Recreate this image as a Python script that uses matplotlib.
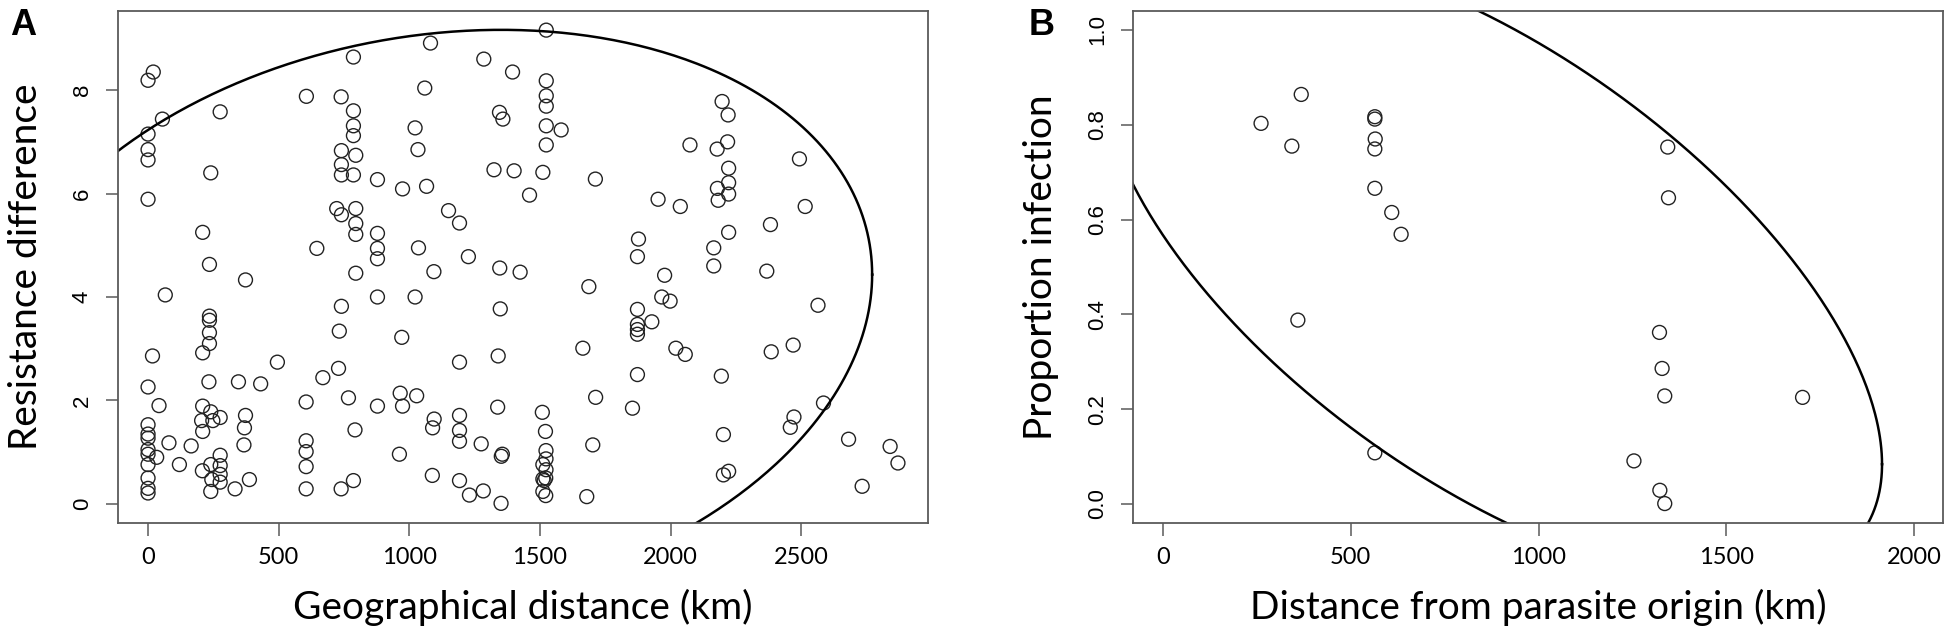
import numpy as np
import matplotlib
matplotlib.use("Agg")
import matplotlib.pyplot as plt

# Panel A: geographical distance (km) vs resistance difference
geo_dist = [
    0, 0, 0, 0, 0, 20, 55, 66, 17, 0,
    0, 0, 0, 0, 0, 0, 0, 0, 0, 33, 42, 80, 120, 165,
    276, 240, 209, 235, 235, 235, 235, 235, 209, 233,
    209, 240, 205, 248, 276, 209, 276, 240, 276, 208, 244, 276, 276, 240,
    373, 495, 346, 431, 333, 388, 373, 369, 367,
    606, 605, 605, 605, 605, 605, 646, 669,
    739, 786, 786, 786, 786, 740, 795, 740, 740, 786, 722, 740, 795, 795, 795,
    795, 740, 732, 729, 767, 792, 739, 786,
    878, 878, 878, 878, 878, 878, 965, 974, 971, 962, 974,
    1066, 1022, 1033, 1059, 1081, 1035, 1094, 1022, 1028, 1095, 1089, 1088,
    1150, 1192, 1226, 1192, 1192, 1192, 1192, 1192, 1230, 1275, 1283, 1285,
    1345, 1358, 1324, 1395, 1401, 1346, 1348, 1340, 1338, 1356, 1352, 1351, 1424,
    1524, 1524, 1524, 1524, 1524, 1524, 1511, 1460, 1581,
    1509, 1521, 1523, 1523, 1511, 1523, 1511, 1516, 1522, 1511, 1522,
    1712, 1687, 1664, 1713, 1702, 1679,
    1877, 1873, 1873, 1873, 1873, 1873, 1928, 1873, 1854,
    1952, 1977, 1966, 1998, 2037, 2074, 2020, 2056,
    2197, 2220, 2218, 2178, 2222, 2222, 2179, 2222, 2182, 2222, 2165, 2165,
    2194, 2202, 2222, 2202,
    2382, 2368, 2493, 2515, 2564, 2385, 2469, 2585, 2472, 2458, 2681, 2840,
    2870, 2733,
]
resist_diff = [
    8.19, 7.15, 6.85, 6.65, 5.89, 8.35, 7.44, 4.04, 2.86, 2.26,
    1.53, 1.35, 1.27, 1.05, 0.96, 0.76, 0.50, 0.30, 0.21, 0.90, 1.90, 1.18, 0.76, 1.12,
    7.58, 6.40, 5.25, 4.63, 3.63, 3.55, 3.31, 3.10, 2.92, 2.36,
    1.89, 1.78, 1.61, 1.61, 1.67, 1.40, 0.94, 0.76, 0.74, 0.64, 0.47, 0.57, 0.42, 0.24,
    4.33, 2.74, 2.36, 2.32, 0.29, 0.47, 1.71, 1.47, 1.14,
    7.88, 1.97, 1.22, 1.01, 0.72, 0.29, 4.94, 2.44,
    7.87, 8.64, 7.60, 7.31, 7.12, 6.83, 6.74, 6.56, 6.36, 6.36, 5.71, 5.59, 5.71, 5.42, 5.21,
    4.46, 3.82, 3.34, 2.62, 2.05, 1.43, 0.29, 0.45,
    6.27, 5.23, 4.94, 4.74, 4.00, 1.89, 2.14, 1.89, 3.22, 0.96, 6.09,
    6.14, 7.27, 6.85, 8.04, 8.91, 4.95, 4.49, 4.00, 2.09, 1.64, 1.47, 0.55,
    5.67, 5.43, 4.78, 2.74, 1.71, 1.42, 1.21, 0.45, 0.17, 1.16, 0.25, 8.60,
    7.57, 7.44, 6.46, 8.35, 6.44, 4.56, 3.77, 2.86, 1.87, 0.96, 0.92, 0.01, 4.48,
    9.16, 8.18, 7.89, 7.69, 7.31, 6.94, 6.41, 5.97, 7.23,
    1.77, 1.40, 1.03, 0.87, 0.76, 0.66, 0.48, 0.45, 0.50, 0.24, 0.16,
    6.28, 4.20, 3.01, 2.06, 1.14, 0.14,
    5.12, 4.78, 3.76, 3.47, 3.37, 3.28, 3.52, 2.50, 1.85,
    5.89, 4.42, 4.00, 3.92, 5.75, 6.94, 3.01, 2.89,
    7.78, 7.52, 7.00, 6.86, 6.49, 6.21, 6.10, 5.99, 5.87, 5.25, 4.95, 4.60,
    2.47, 1.34, 0.63, 0.56,
    5.40, 4.50, 6.67, 5.75, 3.84, 2.94, 3.07, 1.95, 1.68, 1.48, 1.25, 1.11,
    0.79, 0.34,
]

# Panel B: distance from parasite origin (km) vs proportion infection
origin_dist = [368, 261, 343, 564, 564, 565, 564, 564, 609, 634, 359, 564,
               1344, 1346, 1322, 1329, 1336, 1703, 1254, 1323, 1336]
prop_infection = [0.864, 0.803, 0.755, 0.817, 0.812, 0.770, 0.749, 0.666,
                  0.615, 0.569, 0.388, 0.108,
                  0.753, 0.646, 0.362, 0.286, 0.228, 0.225, 0.091, 0.029, 0.001]

# ellipses (centre and covariance-like shape matrix, radius 1)
ell_a_center = [1080.33, 3.5278]
ell_a_shape = [[2859044.07, 1530.5447], [1530.5447, 31.7862]]
ell_b_center = [874.00, 0.50149]
ell_b_shape = [[1082909.40, -434.43696], [-434.43696, 0.4504205]]

ticks_a_x = [0, 500, 1000, 1500, 2000, 2500]
ticks_a_y = [0, 2, 4, 6, 8]
ticks_b_x = [0, 500, 1000, 1500, 2000]
ticks_b_y = [0.0, 0.2, 0.4, 0.6, 0.8, 1.0]


def draw_ellipse(ax, center, shape):
    L = np.linalg.cholesky(np.array(shape))
    t = np.linspace(0, 2 * np.pi, 600)
    pts = np.array(center)[:, None] + L @ np.vstack([np.cos(t), np.sin(t)])
    ax.plot(pts[0], pts[1], color='black', lw=1.8)


frame_col = '#5a5a5a'
lab_font = 'Lato'
num_font = 'Liberation Sans'

fig = plt.figure(figsize=(19.53, 6.37), dpi=100)
ax1 = fig.add_axes([118 / 1953, 1 - 523 / 637, 810 / 1953, 512 / 637])
ax2 = fig.add_axes([1133 / 1953, 1 - 523 / 637, 810 / 1953, 512 / 637])

for ax in (ax1, ax2):
    for s in ax.spines.values():
        s.set_color(frame_col)
        s.set_linewidth(1.3)
    ax.tick_params(axis='both', direction='out', length=9, width=1.1, color=frame_col)
    ax.tick_params(axis='x', pad=8)
    ax.tick_params(axis='y', pad=9)

ax1.scatter(geo_dist, resist_diff, s=100, facecolors='none', edgecolors='#222222',
            linewidths=1.0)
draw_ellipse(ax1, ell_a_center, ell_a_shape)
ax1.set_xlim(-115, 2985)
ax1.set_ylim(-0.37, 9.53)
ax1.set_xticks(ticks_a_x)
ax1.set_yticks(ticks_a_y)
ax1.set_xticklabels([str(v) for v in ticks_a_x], family=lab_font, fontsize=17)
ax1.set_yticklabels([str(v) for v in ticks_a_y], family=num_font, fontsize=16,
                    rotation=90, va='center')
ax1.set_xlabel('Geographical distance (km)', family=lab_font, fontsize=28)
ax1.set_ylabel('Resistance difference', family=lab_font, fontsize=28)

ax2.scatter(origin_dist, prop_infection, s=100, facecolors='none', edgecolors='#222222',
            linewidths=1.0)
draw_ellipse(ax2, ell_b_center, ell_b_shape)
ax2.set_xlim(-80, 2077)
ax2.set_ylim(-0.04, 1.04)
ax2.set_xticks(ticks_b_x)
ax2.set_yticks(ticks_b_y)
ax2.set_xticklabels([str(v) for v in ticks_b_x], family=lab_font, fontsize=17)
ax2.set_yticklabels(['%.1f' % v for v in ticks_b_y], family=num_font, fontsize=16,
                    rotation=90, va='center')
ax2.set_xlabel('Distance from parasite origin (km)', family=lab_font, fontsize=28)
ax2.set_ylabel('Proportion infection', family=lab_font, fontsize=28)

# put the axis titles where R put them
for ax in (ax1, ax2):
    ax.xaxis.set_label_coords(0.5, (523 - 607) / 512)
    ax.xaxis.label.set_verticalalignment('center')
    ax.yaxis.set_label_coords(-92 / 810, 0.5)
    ax.yaxis.label.set_verticalalignment('center')

fig.text(10 / 1953, 1 - 35 / 637, 'A', family=num_font, fontsize=26, fontweight='bold',
         va='baseline')
fig.text(1029 / 1953, 1 - 35 / 637, 'B', family=num_font, fontsize=26, fontweight='bold',
         va='baseline')

fig.savefig('out.png', dpi=100)
